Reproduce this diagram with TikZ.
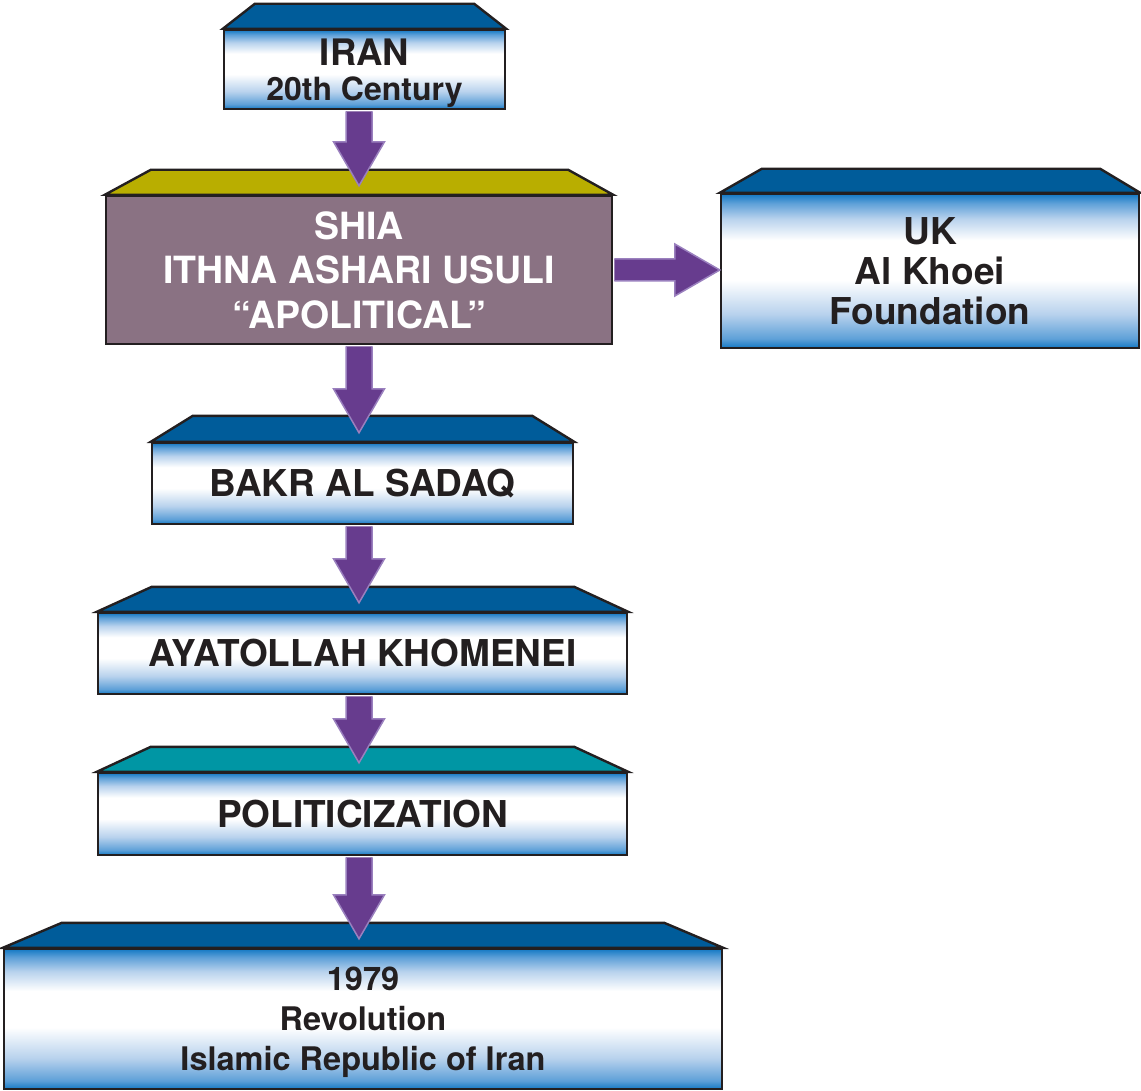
\documentclass[tikz,border=0pt]{standalone}
\usepackage{fontspec}
\setmainfont{TeX Gyre Heros}
\usetikzlibrary{calc}
\definecolor{edge}{HTML}{231F20}
\definecolor{ink}{HTML}{231F20}
\definecolor{topblue}{HTML}{005C9A}
\definecolor{topolive}{HTML}{B9AE00}
\definecolor{topteal}{HTML}{0096A4}
\definecolor{mauve}{HTML}{8A7283}
\definecolor{gblue}{HTML}{1479C4}
\definecolor{gmid}{HTML}{5EA0D8}
\definecolor{glight}{HTML}{B8D2ED}
\definecolor{arrowfill}{HTML}{673C8E}
\definecolor{arrowline}{HTML}{9A80BE}
\pgfdeclareverticalshading{boxgrad}{100bp}{color(0bp)=(gblue); color(25bp)=(gblue); color(28bp)=(gmid); color(36bp)=(glight); color(47bp)=(white); color(60bp)=(white); color(67bp)=(glight); color(72bp)=(gmid); color(75bp)=(gblue); color(100bp)=(gblue)}
\tikzset{
  box/.style={draw=edge, line width=2.4pt, inner sep=0pt, shade, shading=boxgrad, text=ink, align=center, font=\bfseries\fontsize{37}{44}\selectfont},
  plainbox/.style={draw=edge, line width=2.4pt, inner sep=0pt, fill=mauve, text=white, align=center, font=\bfseries\fontsize{37.5}{44.5}\selectfont},
  topface/.style={draw=edge, line width=2.4pt},
  conn/.style={fill=arrowfill, draw=arrowline, line width=1.5pt, line join=miter}
}
\newcommand{\topface}[5]{\filldraw[topface, fill=#2] (#1.north west) -- ++(#3,-#5) -- ($(#1.north east)+(-#4,-#5)$) -- (#1.north east) -- cycle;}
\newcommand{\downconn}[2]{\filldraw[conn] let \p1=(#1.south -| shia.center), \p2=(#2.north -| shia.center) in (\x1-13pt,\y1-1.2pt) -- (\x1-13pt,\y2+53pt) -- (\x1-25.5pt,\y2+53pt) -- (\x1,\y2+9pt) -- (\x1+25.5pt,\y2+53pt) -- (\x1+13pt,\y2+53pt) -- (\x1+13pt,\y1-1.2pt);}
\begin{document}
\begin{tikzpicture}[x=1pt,y=-1pt]
\useasboundingbox (0,0) rectangle (1141,1091);
% boxes
\node[box, minimum width=281pt, minimum height=79pt, text depth=0pt, font=\bfseries\fontsize{36.5}{35}\selectfont] (iran) at (364.5,69.5) {IRAN\\{\fontsize{32}{35}\selectfont 20th Century}};
\node[plainbox, minimum width=506pt, minimum height=148pt] (shia) at (359,270) {SHIA\\ITHNA ASHARI USULI\\“APOLITICAL”};
\node[box, minimum width=418pt, minimum height=154pt, font=\bfseries\fontsize{37}{40}\selectfont] (uk) at (930,271) {UK\\Al Khoei\\Foundation};
\node[box, minimum width=421pt, minimum height=81pt] (bakr) at (362.5,483.5) {BAKR AL SADAQ};
\node[box, minimum width=529pt, minimum height=81pt] (ayat) at (362.5,653.5) {AYATOLLAH KHOMENEI};
\node[box, minimum width=529pt, minimum height=82pt] (pol) at (362.5,814) {POLITICIZATION};
\node[box, minimum width=718pt, minimum height=140pt, text depth=0pt, font=\bfseries\fontsize{32.5}{40}\selectfont] (rev) at (363,1019) {1979\\Revolution\\Islamic Republic of Iran};
% top faces
\topface{iran}{topblue}{32}{32}{25}
\topface{shia}{topolive}{46}{45}{25}
\topface{uk}{topblue}{42}{40}{24}
\topface{bakr}{topblue}{42}{42}{26}
\topface{ayat}{topblue}{55}{54}{25}
\topface{pol}{topteal}{54}{54}{25}
\topface{rev}{topblue}{59}{59}{25}
% connectors
\downconn{iran}{shia}
\downconn{shia}{bakr}
\downconn{bakr}{ayat}
\downconn{ayat}{pol}
\downconn{pol}{rev}
\filldraw[conn] let \p1=(shia.east), \p2=(uk.west) in (\x1+1.2pt,\y1+11pt) -- (\x2-45pt,\y1+11pt) -- (\x2-45pt,\y1+26pt) -- (\x2,\y1) -- (\x2-45pt,\y1-26pt) -- (\x2-45pt,\y1-11pt) -- (\x1+1.2pt,\y1-11pt);
\end{tikzpicture}
\end{document}
